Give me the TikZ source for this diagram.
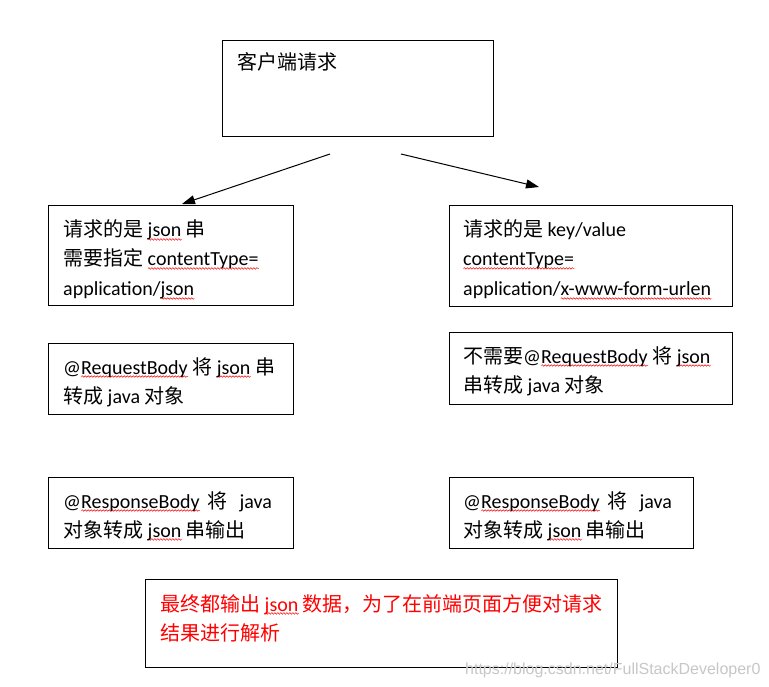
\documentclass[tikz,border=0pt]{standalone}
\usepackage{fontspec}
\setmainfont{Carlito}
\newfontfamily\cjk{Noto Sans CJK SC}
\newfontfamily\wmfont{Liberation Sans}
\usetikzlibrary{arrows.meta,decorations.pathmorphing}
\newcommand\zh[1]{{\cjk #1}}
\newlength\sqlen
\newcommand\sq[1]{\setbox0\hbox{#1}\setlength\sqlen{\wd0}\rlap{\raisebox{-3.5pt}{\tikz\draw[red,line width=0.5pt,decorate,decoration={snake,amplitude=0.8pt,segment length=3pt}] (0pt,0pt) -- (\sqlen,0pt);}}\box0\relax}
\begin{document}
\begin{tikzpicture}[x=1pt,y=-1pt,
  box/.style={draw,line width=1pt,anchor=north west,inner sep=0pt},
  txt/.style={anchor=base west,inner sep=0pt,font=\fontsize{20}{24}\selectfont},
  arr/.style={line width=1pt,-{Triangle[length=13pt,width=9pt]}}]
\useasboundingbox (0,0) rectangle (769,687);
\fill[white] (0,0) rectangle (769,687);
% boxes
\node[box,minimum width=271pt,minimum height=96pt] (top) at (222,40) {};
\node[box,minimum width=245pt,minimum height=100pt] (l1) at (48,205) {};
\node[box,minimum width=283pt,minimum height=101pt] (r1) at (449,205) {};
\node[box,minimum width=245pt,minimum height=71pt] (l2) at (48,343) {};
\node[box,minimum width=283pt,minimum height=72pt] (r2) at (449,332) {};
\node[box,minimum width=245pt,minimum height=71pt] (l3) at (48,477) {};
\node[box,minimum width=244pt,minimum height=71pt] (r3) at (449,477) {};
\node[box,minimum width=472pt,minimum height=88pt] (bot) at (145,579) {};
% texts
\node[txt] (topt) at (237,70) {\zh{客户端请求}};
\node[txt] (l1a) at (63,237) {\zh{请求的是} \sq{json} \zh{串}};
\node[txt] (l1b) at (63,266) {\zh{需要指定} \sq{contentType=}};
\node[txt] (l1c) at (63,296) {application/\sq{json}};
\node[txt] (r1a) at (463,237) {\zh{请求的是} key/value};
\node[txt] (r1b) at (463,266) {\sq{contentType=}};
\node[txt] (r1c) at (463,296) {application/\sq{x-www-form-urlen}};
\node[txt] (l2a) at (63,374) {@\sq{RequestBody} \zh{将} \sq{json} \zh{串}};
\node[txt] (l2b) at (63,403) {\zh{转成} java \zh{对象}};
\node[txt] (r2a) at (463,363) {\zh{不需要}@\sq{RequestBody} \zh{将} \sq{json}};
\node[txt] (r2b) at (463,392) {\zh{串转成} java \zh{对象}};
\node[txt] (l3a) at (63,508) {@\sq{ResponseBody}\hspace{8pt}\zh{将}\hspace{12pt}java};
\node[txt] (l3b) at (63,537) {\zh{对象转成} \sq{json} \zh{串输出}};
\node[txt] (r3a) at (463,508) {@\sq{ResponseBody}\hspace{8pt}\zh{将}\hspace{12pt}java};
\node[txt] (r3b) at (463,537) {\zh{对象转成} \sq{json} \zh{串输出}};
\node[txt,text=red] (ba) at (160,611) {\zh{最终都输出} \sq{json} \zh{数据，为了在前端页面方便对请求}};
\node[txt,text=red] (bb) at (160,640) {\zh{结果进行解析}};
% watermark
\node[anchor=base west,inner sep=0pt,text=black!22,font=\wmfont\fontsize{16}{18}\selectfont] (wm) at (465,674) {https://blog.csdn.net/FullStackDeveloper0};
% arrows
\coordinate (a1s) at (330,154);
\coordinate (a1e) at (182,204);
\coordinate (a2s) at (401,154);
\coordinate (a2e) at (539,187);
\draw[arr] (a1s) -- (a1e);
\draw[arr] (a2s) -- (a2e);
\end{tikzpicture}
\end{document}
